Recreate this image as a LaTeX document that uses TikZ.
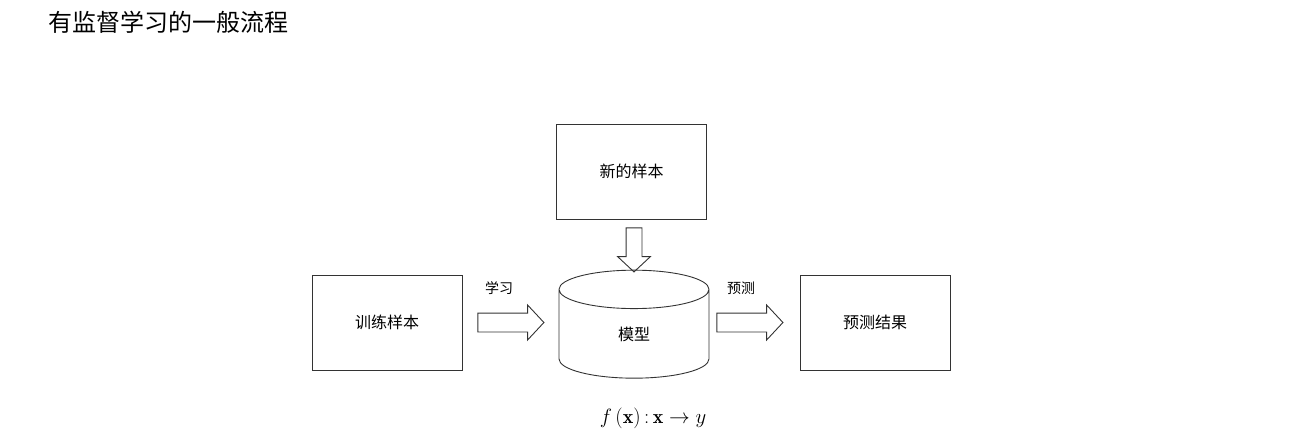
\documentclass[tikz,border=0pt]{standalone}
\usepackage{fontspec}
\newfontfamily\cjk{Noto Sans CJK SC}
\usetikzlibrary{positioning,shapes.geometric,shapes.arrows}
\tikzset{
	box/.style={draw=black!80, line width=0.9pt, minimum width=150pt, minimum height=95pt, inner sep=0pt, font=\cjk\fontsize{16}{19}\selectfont},
	bigarrow/.style={single arrow, draw=black!80, line width=0.9pt, inner xsep=0pt, inner ysep=9pt, minimum height=66pt, single arrow head extend=8pt, single arrow tip angle=94},
	steplabel/.style={inner sep=0pt, font=\cjk\fontsize{14}{17}\selectfont}
}

\begin{document}
\begin{tikzpicture}[x=1pt, y=-1pt]
		%%%%% START %%%%%
		\useasboundingbox (0, 0) rectangle (1290, 438);
		
		\node[anchor=west, inner sep=0pt, font=\cjk\fontsize{24}{27}\selectfont] (title) at (48, 22) {有监督学习的一般流程};
		
		\node[box] (train) at (387, 322.5) {训练样本};
		\node[box] (newdata) at (631.5, 171.5) {新的样本};
		\node[box] (result) at (875, 322.5) {预测结果};
		
		\node[cylinder, shape border rotate=90, draw=black!80, line width=0.9pt, aspect=1.2, minimum width=150pt, minimum height=108pt, inner sep=0pt, font=\cjk\fontsize{16}{19}\selectfont] (model) at (634, 334) {模型};
		
		\node[bigarrow, right=15pt of train] (learn) {};
		\node[bigarrow, left=16pt of result] (predict) {};
		\node[bigarrow, shape border rotate=270, inner xsep=7.5pt, inner ysep=0pt, minimum height=44pt, single arrow head extend=8.5pt, below=8pt of newdata.south -| model] (feed) {};
		
		\node[steplabel] (learnlabel) at (499, 288) {学习};
		\node[steplabel] (predictlabel) at (741, 288) {预测};
		
		\node[font=\fontsize{20}{24}\selectfont] (formula) at (653, 418) {$f\left(\mathbf{x}\right)\colon\mathbf{x}\to y$};
		
		%%%%% END %%%%%
	\end{tikzpicture}
\end{document}
